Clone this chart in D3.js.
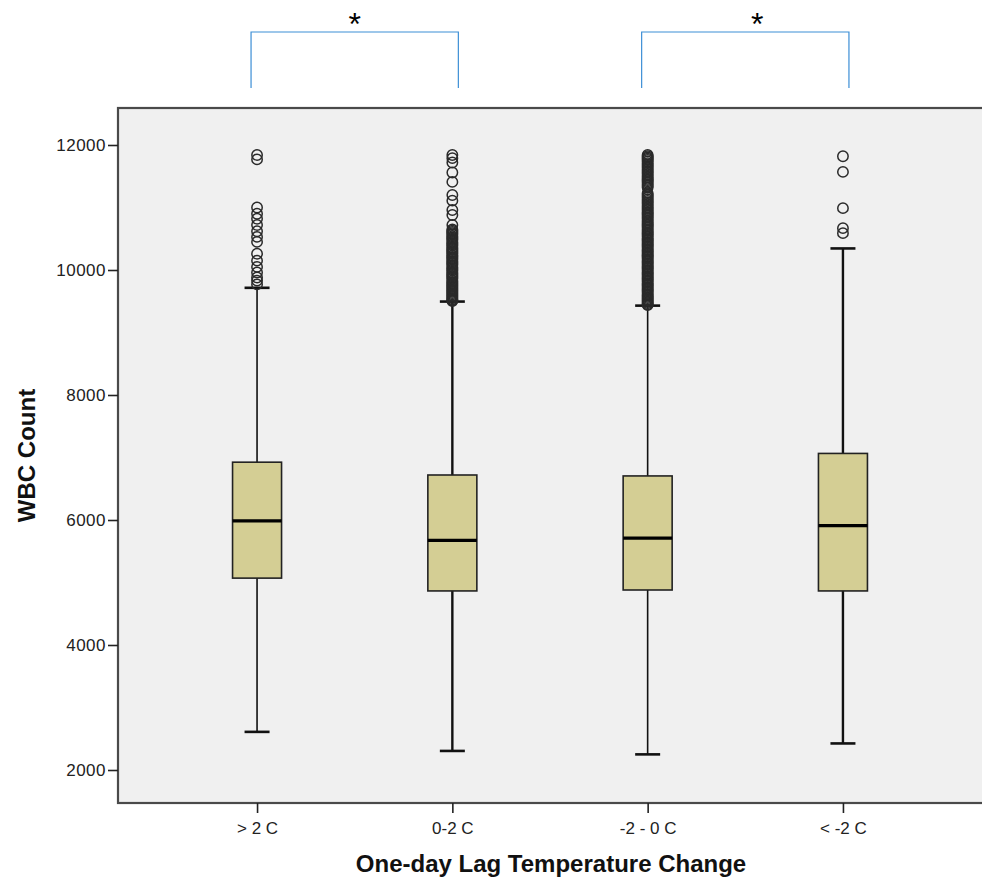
<!DOCTYPE html>
<html>
<head>
<meta charset="utf-8">
<script src="https://cdn.jsdelivr.net/npm/d3@7"></script>
<style>
  html, body { margin: 0; padding: 0; background: #fff; }
  svg { display: block; }
  text { font-family: Arial, "Liberation Sans", sans-serif; }
</style>
</head>
<body>
<div id="chart"></div>
<script>
// values
const categories = ["> 2 C", "0-2 C", "-2 - 0 C", "< -2 C"];
const q1 = [5070, 4865, 4880, 4865];
const medians = [5985, 5675, 5710, 5910];
const q3 = [6925, 6720, 6705, 7065];
const whiskerLow = [2610, 2305, 2250, 2425];
const whiskerHigh = [9715, 9495, 9430, 10345];

const outliers1 = [11840, 11770, 11000, 10900, 10820, 10720, 10620, 10530, 10450, 10260, 10150, 10050, 9960, 9880, 9830, 9770];
const outliers2 = [11840, 11790, 11720, 11560, 11410, 11200, 11110, 10960, 10880, 10720, 10650, 10630, 10610, 10590,
  10570, 10540, 10520, 10500, 10480, 10450, 10430, 10410, 10390, 10360, 10340, 10320, 10300, 10280, 10260, 10230,
  10210, 10190, 10170, 10140, 10120, 10100, 10080, 10050, 10030, 10010, 9990, 9960, 9940, 9920, 9900, 9880, 9860,
  9830, 9810, 9790, 9770, 9750, 9730, 9710, 9690, 9670, 9650, 9630, 9610, 9590, 9570, 9550, 9530, 9515, 9505];
const outliers3 = [11840, 11820, 11800, 11780, 11760, 11735, 11710, 11685, 11660, 11635, 11610, 11585, 11560, 11535,
  11510, 11485, 11460, 11440, 11420, 11395, 11370, 11345, 11320, 11230, 11205, 11180, 11155, 11130, 11105, 11080,
  11055, 11030, 11005, 10980, 10955, 10930, 10910, 10890, 10865, 10840, 10815, 10790, 10765, 10740, 10720, 10700,
  10675, 10650, 10625, 10600, 10580, 10560, 10535, 10510, 10490, 10470, 10445, 10420, 10400, 10380, 10355, 10330,
  10310, 10290, 10265, 10240, 10220, 10200, 10175, 10150, 10130, 10110, 10085, 10060, 10040, 10020, 9995, 9970,
  9950, 9930, 9905, 9880, 9860, 9840, 9815, 9790, 9770, 9750, 9725, 9700, 9680, 9660, 9635, 9610, 9590, 9570,
  9550, 9530, 9510, 9490, 9470, 9450, 9440];
const outliers4 = [11820, 11570, 10990, 10670, 10590];

const yTicks = [2000, 4000, 6000, 8000, 10000, 12000];
const brackets = [["> 2 C", "0-2 C"], ["-2 - 0 C", "< -2 C"]];
const bracketLabel = "*";

const width = 982, height = 880;
const plot = { left: 118, top: 108, right: 982, bottom: 803 };
const starShift = [0, 12];

const svg = d3.select("#chart").append("svg")
  .attr("width", width)
  .attr("height", height);

const x = d3.scalePoint()
  .domain(categories)
  .range([plot.left, plot.right])
  .padding(0.712);

const y = d3.scaleLinear()
  .domain([1472, 12592])
  .range([plot.bottom, plot.top]);

// plot frame
svg.append("rect")
  .attr("x", plot.left)
  .attr("y", plot.top)
  .attr("width", plot.right - plot.left + 20)
  .attr("height", plot.bottom - plot.top)
  .attr("fill", "#f0f0f0")
  .attr("stroke", "#4a4a4a")
  .attr("stroke-width", 2.2);

const boxes = categories.map((c, i) => ({
  cat: c, i,
  q1: q1[i], med: medians[i], q3: q3[i],
  lo: whiskerLow[i], hi: whiskerHigh[i],
  out: [outliers1, outliers2, outliers3, outliers4][i]
}));

const boxW = 49, capW = 25;

const g = svg.append("g").selectAll("g.box")
  .data(boxes)
  .join("g")
  .attr("class", "box")
  .attr("transform", d => `translate(${x(d.cat)},0)`);

// whiskers
g.append("line")
  .attr("x1", 0).attr("x2", 0)
  .attr("y1", d => y(d.hi)).attr("y2", d => y(d.lo))
  .attr("stroke", "#111")
  .attr("stroke-width", d => d.i % 2 ? 2.4 : 1.6);

g.selectAll("line.cap")
  .data(d => [d.lo, d.hi].map(v => ({ v, i: d.i })))
  .join("line")
  .attr("class", "cap")
  .attr("x1", -capW / 2).attr("x2", capW / 2)
  .attr("y1", d => y(d.v)).attr("y2", d => y(d.v))
  .attr("stroke", "#111")
  .attr("stroke-width", 2.6);

g.append("rect")
  .attr("x", -boxW / 2)
  .attr("width", boxW)
  .attr("y", d => y(d.q3))
  .attr("height", d => y(d.q1) - y(d.q3))
  .attr("fill", "#d4ce94")
  .attr("stroke", "#222")
  .attr("stroke-width", 1.6);

g.append("line")
  .attr("x1", -boxW / 2).attr("x2", boxW / 2)
  .attr("y1", d => y(d.med)).attr("y2", d => y(d.med))
  .attr("stroke", "#000")
  .attr("stroke-width", 3.2);

// outliers
g.selectAll("circle")
  .data(d => d.out)
  .join("circle")
  .attr("cx", 0)
  .attr("cy", v => y(v))
  .attr("r", 5.2)
  .attr("fill", "none")
  .attr("stroke", "#2a2a2a")
  .attr("stroke-width", 1.5);

// axes
const yAxis = svg.append("g")
  .attr("transform", `translate(${plot.left},0)`)
  .call(d3.axisLeft(y).tickValues(yTicks).tickSize(10).tickPadding(2).tickFormat(d3.format("d")));
yAxis.select(".domain").remove();
yAxis.selectAll(".tick line").attr("stroke", "#222").attr("stroke-width", 1.6);
yAxis.selectAll(".tick text")
  .attr("font-size", 17)
  .attr("font-family", "Arial, 'Liberation Sans', sans-serif")
  .attr("letter-spacing", 0.5)
  .attr("fill", "#222");

const xAxis = svg.append("g")
  .attr("transform", `translate(0,${plot.bottom})`)
  .call(d3.axisBottom(x).tickSize(10).tickPadding(9));
xAxis.select(".domain").remove();
xAxis.selectAll(".tick line").attr("stroke", "#222").attr("stroke-width", 1.6);
xAxis.selectAll(".tick text")
  .attr("font-size", 17)
  .attr("font-family", "Arial, 'Liberation Sans', sans-serif")
  .attr("fill", "#222");

// axis titles
svg.append("text")
  .attr("transform", `translate(35,${(plot.top + plot.bottom) / 2}) rotate(-90)`)
  .attr("text-anchor", "middle")
  .attr("font-size", 24)
  .attr("font-weight", "bold")
  .attr("fill", "#111")
  .text("WBC Count");

svg.append("text")
  .attr("x", 551)
  .attr("y", 872)
  .attr("text-anchor", "middle")
  .attr("font-size", 24)
  .attr("font-weight", "bold")
  .attr("fill", "#111")
  .text("One-day Lag Temperature Change");

// significance brackets
const br = svg.append("g").selectAll("g")
  .data(brackets)
  .join("g");

br.append("path")
  .attr("d", d => {
    const a = x(d[0]) - 6, b = x(d[1]) + 6;
    return `M${a},88V32H${b}V88`;
  })
  .attr("fill", "none")
  .attr("stroke", "#3d8fd6")
  .attr("stroke-width", 1.2);

br.append("text")
  .attr("x", (d, i) => (x(d[0]) + x(d[1])) / 2 + starShift[i])
  .attr("y", 35)
  .attr("text-anchor", "middle")
  .attr("font-family", "'Liberation Serif', 'Times New Roman', serif")
  .attr("font-size", 32)
  .attr("fill", "#000")
  .text(bracketLabel);
</script>
</body>
</html>
